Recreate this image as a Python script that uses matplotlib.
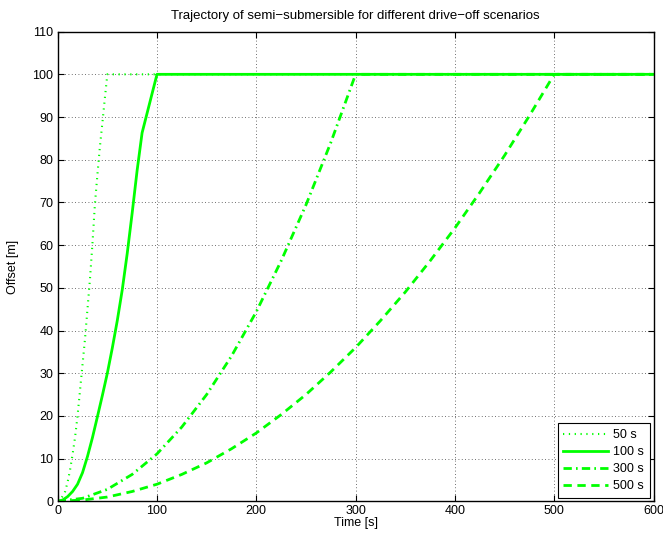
"""
Trajectory of semi-submersible for different drive-off scenarios
MATLAB-style line plot with dotted grid and boxed legend.
"""

import matplotlib
matplotlib.use("Agg")
import matplotlib.pyplot as plt

###############################################################################
# Data

t50 = [0, 2.5, 5, 7.5, 10, 12.5, 15, 17.5, 20, 22.5, 25, 27.5, 30, 32.5,
       35, 37.5, 40, 42.5, 45, 47.5, 50, 600]
v50 = [0, 0.4, 1.2, 2.3, 4.5, 7.4, 11, 15, 20, 26, 32, 38, 45, 52,
       60.3, 69.6, 76.5, 83, 88.6, 94.4, 100, 100]

t100 = [0, 5, 10, 15, 20, 25, 30, 35, 40, 45, 50, 55, 60, 65, 70, 75, 80,
        85, 100, 600]
v100 = [0, 0.3, 1.1, 2.3, 4.0, 6.7, 10.5, 14.9, 19.8, 24.8, 30, 35.9, 42.3,
        49.5, 58, 67.5, 77.5, 86.3, 100, 100]

t300 = [0, 25, 50, 75, 100, 125, 150, 175, 200, 225, 250, 275, 300, 600]
v300 = [0, 0.7, 2.8, 6.3, 11.1, 17.4, 25.0, 34.0, 44.4, 56.3, 69.4, 84.0,
        100, 100]

t500 = [0, 25, 50, 75, 100, 125, 150, 175, 200, 225, 250, 275, 300, 325,
        350, 375, 400, 425, 450, 475, 500, 600]
v500 = [0, 0.3, 1.0, 2.3, 4.0, 6.3, 9.0, 12.3, 16.0, 20.3, 25.0, 30.3, 36.0,
        42.3, 49.0, 56.3, 64.0, 72.3, 81.0, 90.3, 100, 100]

labels = ['50 s', '100 s', '300 s', '500 s']
xticks = [0, 100, 200, 300, 400, 500, 600]
yticks = list(range(0, 111, 10))

###############################################################################
# Plot

plt.rcParams['font.family'] = ['Liberation Sans', 'DejaVu Sans']
plt.rcParams['font.size'] = 9

fig = plt.figure(figsize=(6.63, 5.38), dpi=100)
ax = fig.add_axes([0.087, 0.0682, 0.8987, 0.873])

green = (0, 1, 0)
ax.plot(t50, v50, color=green, lw=1.5, linestyle=(0, (0.6, 2.2)),
        label=labels[0])
ax.plot(t100, v100, color=green, lw=2.0, linestyle='-', label=labels[1])
ax.plot(t300, v300, color=green, lw=2.0, linestyle=(0, (3, 1.5, 0.6, 1.5)),
        label=labels[2])
ax.plot(t500, v500, color=green, lw=2.0, linestyle=(0, (3, 2)),
        label=labels[3])

ax.set_xlim(0, 600)
ax.set_ylim(0, 110)
ax.set_xticks(xticks)
ax.set_yticks(yticks)

# MATLAB-like grid and ticks
ax.grid(True, color='0.25', linestyle=(0, (1, 3)), linewidth=0.6)
ax.tick_params(direction='in', top=True, right=True, length=4, width=0.8,
               labelsize=9, pad=3)
for s in ax.spines.values():
    s.set_linewidth(1.0)

ax.set_title('Trajectory of semi\u2212submersible for different drive\u2212off scenarios',
             fontsize=9.5, pad=9)
ax.set_xlabel('Time [s]', fontsize=9, labelpad=0)
ax.set_ylabel('Offset [m]', fontsize=9, labelpad=10)

leg = ax.legend(loc='lower right', fontsize=9, handlelength=3.6,
                handletextpad=0.4, borderpad=0.45, labelspacing=0.4,
                fancybox=False, framealpha=1, borderaxespad=0.3)
leg.get_frame().set_edgecolor('black')
leg.get_frame().set_linewidth(0.8)

fig.savefig('out.png', dpi=100)
